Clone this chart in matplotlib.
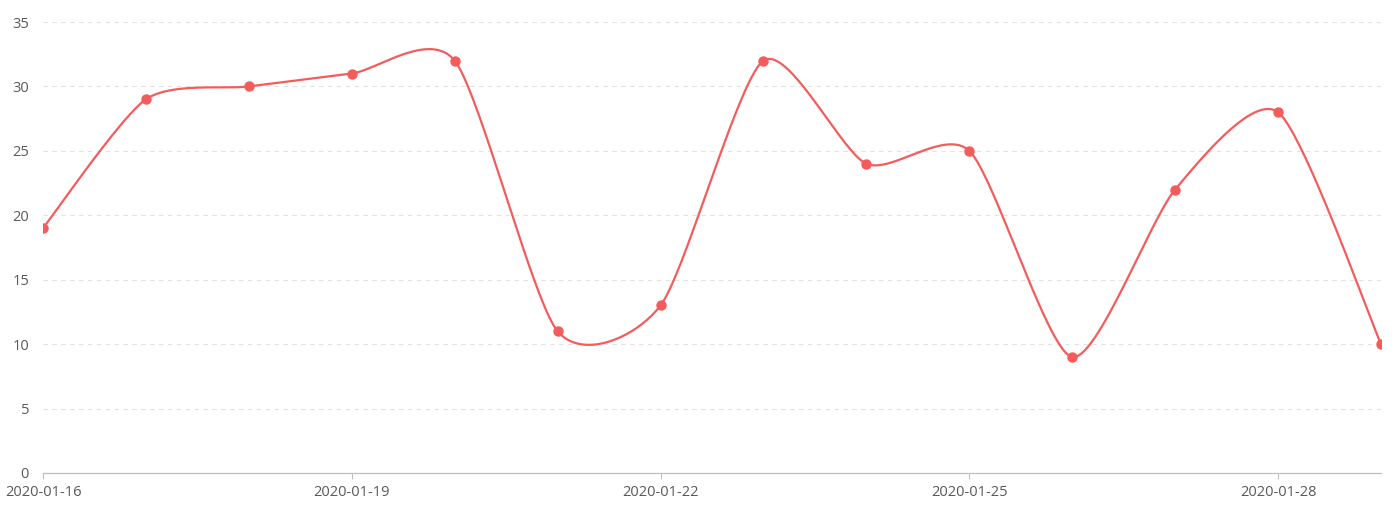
import numpy as np
import pandas as pd
import matplotlib
matplotlib.use('Agg')
import matplotlib.pyplot as plt
import matplotlib.dates as mdates

dates = pd.date_range('2020-01-16', '2020-01-29', freq='D')
values = [19, 29, 30, 31, 32, 11, 13, 32, 24, 25, 9, 22, 28, 10]
tick_dates = ['2020-01-16', '2020-01-19', '2020-01-22', '2020-01-25', '2020-01-28']
y_ticks = [0, 5, 10, 15, 20, 25, 30, 35]

line_col = '#F45C5C'
text_col = '#595959'

plt.rcParams['font.family'] = ['Open Sans', 'DejaVu Sans']


def smooth(x, y, n=40, k=0.36):
    # cardinal spline through every point, ends duplicated
    px = np.concatenate([[x[0]], x, [x[-1]]])
    py = np.concatenate([[y[0]], y, [y[-1]]])
    xs, ys = [], []
    t = np.linspace(0, 1, n)
    for i in range(1, len(px) - 2):
        mx0 = (px[i+1] - px[i-1]) * k
        mx1 = (px[i+2] - px[i]) * k
        my0 = (py[i+1] - py[i-1]) * k
        my1 = (py[i+2] - py[i]) * k
        h00 = 2*t**3 - 3*t**2 + 1
        h10 = t**3 - 2*t**2 + t
        h01 = -2*t**3 + 3*t**2
        h11 = t**3 - t**2
        xs.append(h00*px[i] + h10*mx0 + h01*px[i+1] + h11*mx1)
        ys.append(h00*py[i] + h10*my0 + h01*py[i+1] + h11*my1)
    return np.concatenate(xs), np.concatenate(ys)


xnum = mdates.date2num(dates)
sx, sy = smooth(np.array(xnum, dtype=float), np.array(values, dtype=float))

fig = plt.figure(figsize=(14, 5.07), dpi=100)
ax = fig.add_axes([43/1400, 34/507, (1381-43)/1400, (473-22)/507])

for v in y_ticks[1:]:
    ax.axhline(v, color='#e3e3e3', lw=0.8, ls=(0, (4, 4)), zorder=0)

ax.plot(sx, sy, color=line_col, lw=1.6, zorder=2)
ax.plot(xnum, values, 'o', color=line_col, ms=6.5, zorder=3)

ax.set_xlim(xnum[0], xnum[-1])
ax.set_ylim(0, 35)
ax.set_yticks(y_ticks)
ax.set_xticks(mdates.date2num(pd.to_datetime(tick_dates)))
ax.set_xticklabels(tick_dates)

for s in ['top', 'right', 'left']:
    ax.spines[s].set_visible(False)
ax.spines['bottom'].set_color('#bfbfbf')
ax.spines['bottom'].set_linewidth(0.9)
ax.tick_params(axis='y', length=0, pad=10, labelsize=10.5, labelcolor=text_col)
ax.tick_params(axis='x', length=4, color='#bfbfbf', pad=5, labelsize=10.5, labelcolor=text_col)

fig.savefig('out.png', dpi=100)
